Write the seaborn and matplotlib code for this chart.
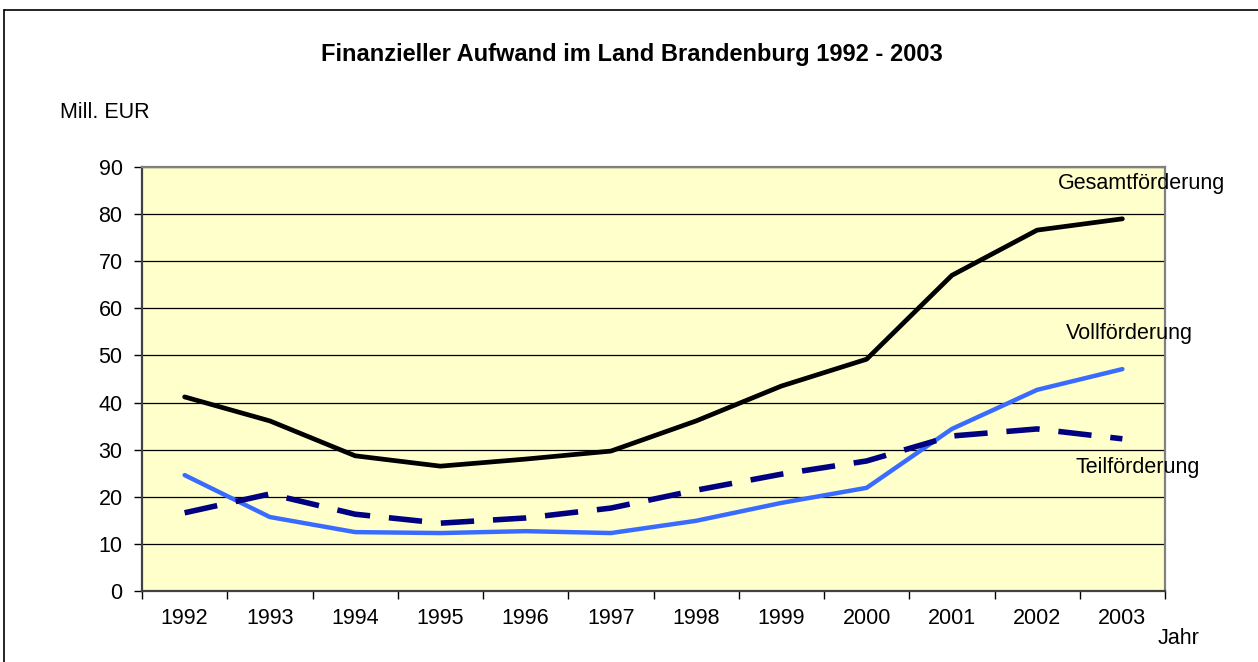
import matplotlib
matplotlib.use("Agg")
import matplotlib.pyplot as plt
from matplotlib.lines import Line2D
import numpy as np
import pandas as pd
import seaborn as sns

YEARS = [1992, 1993, 1994, 1995, 1996, 1997, 1998, 1999, 2000, 2001, 2002, 2003]
GESAMT = [41.2, 36.1, 28.7, 26.5, 28.0, 29.7, 36.1, 43.5, 49.2, 67.0, 76.6, 79.0]
VOLL = [24.6, 15.7, 12.5, 12.3, 12.7, 12.3, 14.9, 18.7, 21.9, 34.4, 42.7, 47.1]
TEIL = [16.6, 20.6, 16.3, 14.4, 15.5, 17.6, 21.4, 24.8, 27.6, 32.9, 34.4, 32.3]
Y_TICKS = [0, 10, 20, 30, 40, 50, 60, 70, 80, 90]

TITLE = "Finanzieller Aufwand im Land Brandenburg 1992 - 2003"
FONT = ["Liberation Sans", "DejaVu Sans"]

sns.set_theme(style="white")
plt.rcParams["font.family"] = FONT
plt.rcParams["text.color"] = "black"
plt.rcParams["xtick.color"] = "black"
plt.rcParams["ytick.color"] = "black"

df = pd.DataFrame({"Jahr": YEARS, "Gesamt": GESAMT, "Voll": VOLL, "Teil": TEIL})

fig = plt.figure(figsize=(12.58, 6.62), dpi=100)
ax = fig.add_axes([142 / 1258, 1 - 591 / 662, 1023 / 1258, 424 / 662])
ax.set_facecolor("#FFFFCC")

sns.lineplot(data=df, x="Jahr", y="Gesamt", color="black", linewidth=3.4, ax=ax)
sns.lineplot(data=df, x="Jahr", y="Voll", color="#3A6BFF", linewidth=3.2, ax=ax)
sns.lineplot(data=df, x="Jahr", y="Teil", color="#000080", linewidth=4.0, ax=ax)
ax.lines[-1].set_dashes((6.0, 3.4))

ax.set_xlim(YEARS[0] - 0.5, YEARS[-1] + 0.5)
ax.set_ylim(0, 90)
ax.set_yticks(Y_TICKS)
ax.set_xticks(YEARS)
ax.set_xticks(np.arange(YEARS[0] - 0.5, YEARS[-1] + 1.0, 1.0), minor=True)
ax.tick_params(axis="x", which="major", length=0, labelsize=15.5, pad=12, colors="black")
ax.tick_params(axis="x", which="minor", length=6, width=1, color="black", direction="out", bottom=True)
ax.tick_params(axis="y", which="major", length=6, width=1, color="black", direction="out",
               left=True, labelsize=15.5, pad=8, labelcolor="black")
ax.set_xlabel("")
ax.set_ylabel("")

ax.yaxis.grid(True, color="black", linewidth=0.9)
ax.set_axisbelow(True)
for side, col in [("left", "#404040"), ("bottom", "#404040"), ("top", "#808080"), ("right", "#808080")]:
    ax.spines[side].set_visible(True)
    ax.spines[side].set_color(col)
    ax.spines[side].set_linewidth(1.6)

fig.text(632 / 1258, 1 - 55 / 662, TITLE, ha="center", va="center", fontsize=17, fontweight="bold")
fig.text(60 / 1258, 1 - 112 / 662, "Mill. EUR", ha="left", va="center", fontsize=15.5)
fig.text(1058 / 1258, 1 - 183 / 662, "Gesamtförderung", ha="left", va="center", fontsize=15.5)
fig.text(1066 / 1258, 1 - 333 / 662, "Vollförderung", ha="left", va="center", fontsize=15.5)
fig.text(1076 / 1258, 1 - 468 / 662, "Teilförderung", ha="left", va="center", fontsize=15.5)
fig.text(1158 / 1258, 1 - 638 / 662, "Jahr", ha="left", va="center", fontsize=15.5)

# outer chart frame (left and top edge visible in the original)
fig.add_artist(Line2D([4 / 1258, 4 / 1258], [0, 1 - 10 / 662], transform=fig.transFigure,
                      color="black", linewidth=1.2))
fig.add_artist(Line2D([4 / 1258, 1], [1 - 10 / 662, 1 - 10 / 662], transform=fig.transFigure,
                      color="black", linewidth=1.2))

fig.savefig("out.png", dpi=100)
